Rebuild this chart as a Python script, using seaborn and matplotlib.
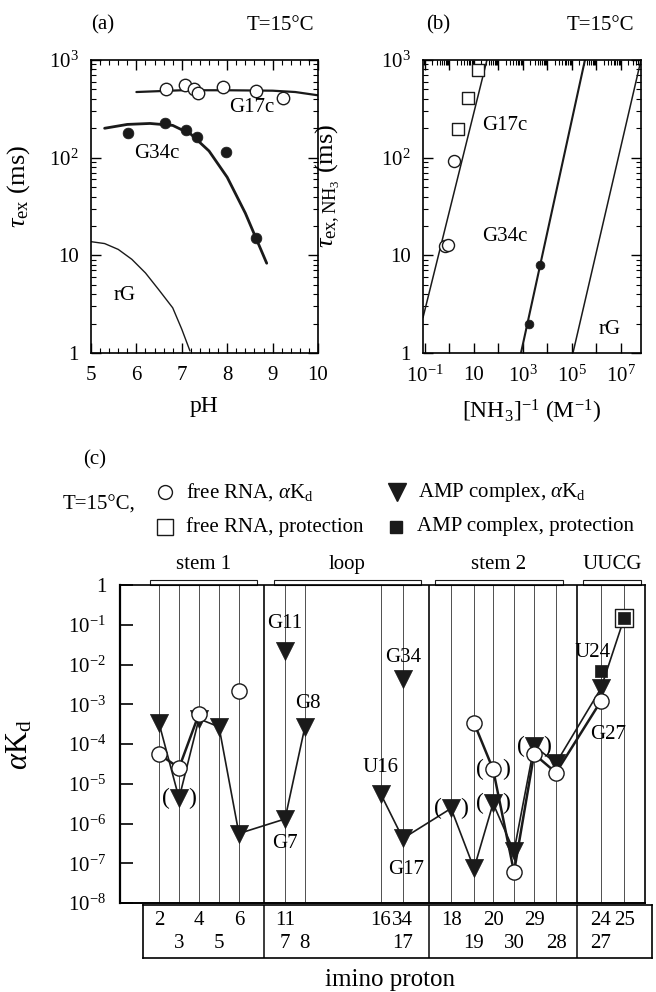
import matplotlib
matplotlib.use("Agg")
import matplotlib.pyplot as plt
import matplotlib.transforms as mtransforms
from matplotlib.patches import Rectangle
from matplotlib.lines import Line2D
from matplotlib.ticker import LogLocator, NullFormatter, MultipleLocator
import seaborn as sns

sns.set_theme(style="ticks")
plt.rcParams["font.family"] = ["Liberation Serif", "DejaVu Serif"]
plt.rcParams["mathtext.fontset"] = "custom"
plt.rcParams["mathtext.rm"] = "Liberation Serif"
plt.rcParams["mathtext.it"] = "Liberation Serif:italic"
plt.rcParams["mathtext.sf"] = "Liberation Serif"
for k in ["text.color", "axes.labelcolor", "xtick.color", "ytick.color", "axes.edgecolor"]:
    plt.rcParams[k] = "black"
plt.rcParams["axes.linewidth"] = 1.2

# ---------------- (a) exchange time vs pH ----------------
ph_g17 = [6.65, 7.07, 7.27, 7.36, 7.91, 8.63, 9.23]
tau_g17 = [505, 560, 505, 460, 533, 483, 410]
ph_g34 = [5.81, 6.63, 7.09, 7.33, 7.97, 8.63]
tau_g34 = [178, 229, 190, 162, 115, 15]
ph_g17_fit = [6.0, 7.0, 8.0, 9.0, 9.5, 10.0]
tau_g17_fit = [470, 490, 490, 485, 470, 435]
ph_g34_fit = [5.3, 5.8, 6.3, 6.8, 7.2, 7.6, 8.0, 8.4, 8.87]
tau_g34_fit = [200, 219, 224, 214, 174, 117, 63, 27, 8.3]
ph_rg_fit = [5.0, 5.3, 5.6, 5.9, 6.2, 6.5, 6.8, 7.0, 7.18]
tau_rg_fit = [13.8, 13.2, 11.5, 9.1, 6.6, 4.4, 2.9, 1.75, 1.05]

# ---------------- (b) exchange time vs 1/[NH3] ----------------
inv_nh3_sq = [14.5, 5.75, 2.24]
tau_sq = [794, 407, 195]
inv_nh3_open = [1.5, 0.66, 0.87]
tau_open = [93, 12.6, 12.9]
inv_nh3_fill = [4900, 1740]
tau_fill = [7.9, 2.0]
g17_line_x = [0.083, 33.9]
g17_line_y = [2.3, 1000]
g34_line_x = [832, 3.4e5]
g34_line_y = [1, 1000]
rg_line_x = [1.1e5, 6.6e7]
rg_line_y = [1, 1000]

# ---------------- (c) alpha*Kd per imino proton ----------------
col_pos = {2: 1.90, 3: 2.88, 4: 3.85, 5: 4.83, 6: 5.80,
           11: 8.05, 7: 8.05, 8: 9.02, 16: 12.73, 34: 13.80, 17: 13.80,
           18: 16.15, 19: 17.27, 20: 18.20, 30: 19.22, 29: 20.20, 28: 21.27,
           24: 23.46, 27: 23.46, 25: 24.59}
group_sep = [7.02, 15.07, 22.3]
groups = ["stem 1", "loop", "stem 2", "UUCG"]
group_span = [(1.46, 6.68), (7.51, 14.68), (15.37, 21.61), (22.59, 25.41)]

free_res_a = [2, 3, 4]
free_val_a = [5.6e-5, 2.5e-5, 5.7e-4]
free_res_s = [6]
free_val_s = [2.2e-3]
free_res_b = [19, 20, 30, 29, 28, 27]
free_val_b = [3.4e-4, 2.3e-5, 6e-8, 5.6e-5, 1.9e-5, 1.2e-3]

amp_res_a = [2, 3, 4, 5, 6, 7, 8]
amp_val_a = [3.4e-4, 4.3e-6, 4.3e-4, 2.7e-4, 5.6e-7, 1.3e-6, 2.7e-4]
amp_res_s = [11, 34]
amp_val_s = [2.2e-2, 4.4e-3]
amp_res_b = [16, 17, 18, 19, 20, 30, 29, 28, 27]
amp_val_b = [5.4e-6, 4.2e-7, 2.4e-6, 7.4e-8, 3.2e-6, 2e-7, 8.9e-5, 3.3e-5, 2.5e-3]

free_prot_res = [25]
free_prot_val = [0.145]
amp_prot_res = [24, 25]
amp_prot_val = [7e-3, 0.145]

amp_paren = [3, 18, 20, 29]
free_paren = [20]

row1_labels = [2, 4, 6, 11, 16, 34, 18, 20, 29, 24, 25]
row2_labels = [3, 5, 7, 8, 17, 19, 30, 28, 27]

W, H = 656, 992


def box(l, t, r, b):
    return [l / W, 1 - b / H, (r - l) / W, (b - t) / H]


def xs(res):
    return [col_pos[r] for r in res]


fig = plt.figure(figsize=(6.56, 9.92), dpi=100)
axa = fig.add_axes(box(91, 60, 318, 353))
axb = fig.add_axes(box(423, 60, 641, 353))
axc = fig.add_axes(box(120, 585, 645, 903))
axl = fig.add_axes(box(143, 905, 652, 958))

# ---- panel a
sns.lineplot(x=ph_g17_fit, y=tau_g17_fit, ax=axa, color="k", lw=1.6, sort=False, estimator=None)
sns.lineplot(x=ph_g34_fit, y=tau_g34_fit, ax=axa, color="k", lw=2.0, sort=False, estimator=None)
sns.lineplot(x=ph_rg_fit, y=tau_rg_fit, ax=axa, color="k", lw=1.0, sort=False, estimator=None)
sns.scatterplot(x=ph_g17, y=tau_g17, ax=axa, marker="o", s=80, color="white",
                edgecolor="k", linewidth=1.0, zorder=5)
sns.scatterplot(x=ph_g34, y=tau_g34, ax=axa, marker="o", s=60, color="k",
                edgecolor="k", linewidth=0.5, zorder=5)
axa.set_yscale("log")
axa.set_xlim(5, 10)
axa.set_ylim(1, 1000)
axa.set_yticks([1, 10, 100, 1000])
axa.set_yticklabels(["1", "10", "$10^2$", "$10^3$"])
axa.yaxis.set_minor_locator(LogLocator(base=10, subs=range(2, 10)))
axa.yaxis.set_minor_formatter(NullFormatter())
axa.xaxis.set_major_locator(MultipleLocator(1))
axa.xaxis.set_minor_locator(MultipleLocator(0.2))
axa.tick_params(which="both", top=True, right=True, direction="in", labelsize=15)
axa.tick_params(which="major", length=7, width=1, pad=9)
axa.tick_params(which="minor", length=3.5, width=0.8)
axa.set_xlabel("pH", fontsize=17, labelpad=8)
axa.set_ylabel(r"$\tau_{\rm ex}$ (ms)", fontsize=19)
axa.yaxis.set_label_coords(-0.26, 0.57)
axa.text(8.55, 325, "G17c", fontsize=15, ha="center", va="center")
axa.text(6.46, 110, "G34c", fontsize=15, ha="center", va="center")
axa.text(5.75, 3.9, "rG", fontsize=15, ha="center", va="center")

# ---- panel b
sns.lineplot(x=g17_line_x, y=g17_line_y, ax=axb, color="k", lw=1.1, sort=False, estimator=None)
sns.lineplot(x=g34_line_x, y=g34_line_y, ax=axb, color="k", lw=1.5, sort=False, estimator=None)
sns.lineplot(x=rg_line_x, y=rg_line_y, ax=axb, color="k", lw=1.1, sort=False, estimator=None)
sns.scatterplot(x=inv_nh3_sq, y=tau_sq, ax=axb, marker="s", s=70, color="white",
                edgecolor="k", linewidth=1.0, zorder=5)
sns.scatterplot(x=inv_nh3_open, y=tau_open, ax=axb, marker="o", s=75, color="white",
                edgecolor="k", linewidth=1.0, zorder=5)
sns.scatterplot(x=inv_nh3_fill, y=tau_fill, ax=axb, marker="o", s=40, color="k",
                edgecolor="k", linewidth=0.5, zorder=5)
axb.set_xscale("log")
axb.set_yscale("log")
axb.set_xlim(10 ** -1.08, 10 ** 7.82)
axb.set_ylim(1, 1000)
decades = [10.0 ** e for e in range(-1, 8)]
axb.set_xticks(decades)
axb.set_xticklabels(["$10^{-1}$", "", "10", "", "$10^3$", "", "$10^5$", "", "$10^7$"])
axb.xaxis.set_minor_locator(LogLocator(base=10, subs=range(2, 10), numticks=20))
axb.xaxis.set_minor_formatter(NullFormatter())
axb.set_yticks([1, 10, 100, 1000])
axb.set_yticklabels(["1", "10", "$10^2$", "$10^3$"])
axb.yaxis.set_minor_locator(LogLocator(base=10, subs=range(2, 10)))
axb.yaxis.set_minor_formatter(NullFormatter())
axb.tick_params(which="both", top=True, right=True, direction="in", labelsize=15)
axb.tick_params(which="major", length=7, width=1, pad=9)
axb.tick_params(which="minor", length=3.5, width=0.8)
axb.tick_params(axis="x", which="minor", bottom=False)
axb.set_xlabel(r"[NH$_3$]$^{-1}$ (M$^{-1}$)", fontsize=17, labelpad=8)
axb.set_ylabel(r"$\tau_{\rm ex,NH_3}$ (ms)", fontsize=19)
axb.yaxis.set_label_coords(-0.37, 0.57)
axb.text(10 ** 2.27, 10 ** 2.33, "G17c", fontsize=15, ha="center", va="center")
axb.text(10 ** 2.27, 10 ** 1.19, "G34c", fontsize=15, ha="center", va="center")
axb.text(10 ** 6.55, 10 ** 0.24, "rG", fontsize=15, ha="center", va="center")

# ---- panel c
for x in sorted(set(col_pos.values())):
    axc.axvline(x, color="0.2", lw=0.6, zorder=1)
for x in group_sep:
    axc.axvline(x, color="k", lw=1.3, zorder=1)

sns.lineplot(x=xs(amp_res_a), y=amp_val_a, ax=axc, color="k", lw=1.2, sort=False, estimator=None, zorder=2)
sns.lineplot(x=xs(amp_res_b + amp_prot_res[-1:]), y=amp_val_b + amp_prot_val[-1:], ax=axc,
             color="k", lw=1.2, sort=False, estimator=None, zorder=2)
sns.lineplot(x=xs(free_res_a), y=free_val_a, ax=axc, color="k", lw=1.8, sort=False, estimator=None, zorder=2)
sns.lineplot(x=xs(free_res_b), y=free_val_b, ax=axc, color="k", lw=1.8, sort=False, estimator=None, zorder=2)

sns.scatterplot(x=xs(amp_res_a + amp_res_s + amp_res_b), y=amp_val_a + amp_val_s + amp_val_b,
                ax=axc, marker="v", s=170, color="k", edgecolor="k", linewidth=0.5, zorder=4)
sns.scatterplot(x=xs(free_res_a + free_res_s + free_res_b), y=free_val_a + free_val_s + free_val_b,
                ax=axc, marker="o", s=120, color="white", edgecolor="k", linewidth=1.0, zorder=5)
sns.scatterplot(x=xs(free_prot_res), y=free_prot_val, ax=axc, marker="s", s=150, color="white",
                edgecolor="k", linewidth=1.0, zorder=5)
sns.scatterplot(x=xs(amp_prot_res), y=amp_prot_val, ax=axc, marker="s", s=75, color="k",
                edgecolor="k", linewidth=0.5, zorder=6)

amp_lookup = dict(zip(amp_res_a + amp_res_b, amp_val_a + amp_val_b))
free_lookup = dict(zip(free_res_a + free_res_b, free_val_a + free_val_b))
for r in amp_paren:
    axc.text(col_pos[r] - 0.62, amp_lookup[r], "(", fontsize=17, ha="center", va="center", zorder=6)
    axc.text(col_pos[r] + 0.62, amp_lookup[r], ")", fontsize=17, ha="center", va="center", zorder=6)
for r in free_paren:
    axc.text(col_pos[r] - 0.62, free_lookup[r], "(", fontsize=17, ha="center", va="center", zorder=6)
    axc.text(col_pos[r] + 0.62, free_lookup[r], ")", fontsize=17, ha="center", va="center", zorder=6)

all_amp = dict(zip(amp_res_a + amp_res_s + amp_res_b, amp_val_a + amp_val_s + amp_val_b))
all_free = dict(zip(free_res_a + free_res_b, free_val_a + free_val_b))
notes = [("G11", col_pos[11], all_amp[11], 0, 20),
         ("G8", col_pos[8], all_amp[8], 2, 17),
         ("G34", col_pos[34], all_amp[34], 0, 15),
         ("U16", col_pos[16], all_amp[16], 0, 19),
         ("G7", col_pos[7], all_amp[7], 0, -18),
         ("G17", col_pos[17], all_amp[17], 2, -22),
         ("U24", col_pos[24], amp_prot_val[0], -6, 13),
         ("G27", col_pos[27], all_free[27], 5, -24)]
for txt, x, y, dx, dy in notes:
    axc.annotate(txt, (x, y), xytext=(dx, dy), textcoords="offset points",
                 fontsize=15, ha="center", va="center", zorder=7)

axc.set_yscale("log")
axc.set_xlim(0, 25.61)
axc.set_ylim(1e-8, 1)
axc.set_xticks([])
axc.set_yticks([10.0 ** -e for e in range(0, 9)])
axc.set_yticklabels(["1"] + ["$10^{-%d}$" % e for e in range(1, 9)])
axc.yaxis.set_minor_locator(plt.NullLocator())
axc.tick_params(axis="y", which="major", direction="in", length=9, width=1.2, labelsize=15, pad=10)
axc.spines["left"].set_linewidth(1.6)
axc.spines["bottom"].set_linewidth(1.4)
axc.set_ylabel(r"$\alpha$K$_{\rm d}$", fontsize=22)
axc.yaxis.set_label_coords(-0.162, 0.497)

trans = mtransforms.blended_transform_factory(axc.transData, axc.transAxes)
for name, (x0, x1) in zip(groups, group_span):
    axc.add_patch(Rectangle((x0, 1.0), x1 - x0, 0.016, transform=trans, facecolor="white",
                            edgecolor="k", lw=0.8, clip_on=False))
    axc.text((x0 + x1) / 2, 1.063, name, transform=trans, fontsize=15, ha="center", va="center")

# label box under panel c
axl.set_xlim((143 - 120) / 20.5, (652 - 120) / 20.5)
axl.set_ylim(0, 1)
axl.set_xticks([])
axl.set_yticks([])
for x in group_sep:
    axl.axvline(x, color="k", lw=1.2)
for r in row1_labels:
    axl.text(col_pos[r], 0.70, str(r), fontsize=15, ha="center", va="center")
for r in row2_labels:
    axl.text(col_pos[r], 0.27, str(r), fontsize=15, ha="center", va="center")

# figure texts
fig.text(103 / W, 1 - 25 / H, "(a)", fontsize=15, ha="center", va="center")
fig.text(438 / W, 1 - 25 / H, "(b)", fontsize=15, ha="center", va="center")
fig.text(95 / W, 1 - 460 / H, "(c)", fontsize=15, ha="center", va="center")
fig.text(280 / W, 1 - 25 / H, "T=15°C", fontsize=15, ha="center", va="center")
fig.text(600 / W, 1 - 25 / H, "T=15°C", fontsize=15, ha="center", va="center")
fig.text(99 / W, 1 - 505 / H, "T=15°C,", fontsize=15, ha="center", va="center")
fig.text(390 / W, 1 - 980 / H, "imino proton", fontsize=18, ha="center", va="center")

legend_items = [(165, 492, "o", "white", 10, r"free RNA, $\alpha$K$_{\rm d}$"),
                (165, 527, "s", "white", 11, "free RNA, protection"),
                (397, 492, "v", "k", 13, r"AMP complex, $\alpha$K$_{\rm d}$"),
                (396, 527, "s", "k", 9, "AMP complex, protection")]
for px, py, mk, fc, ms, lab in legend_items:
    fig.add_artist(Line2D([px / W], [1 - py / H], marker=mk, ms=ms, mfc=fc, mec="k",
                          mew=1.0, ls="none", transform=fig.transFigure))
    fig.text((px + 21) / W, 1 - py / H, lab, fontsize=15, ha="left", va="center")

fig.savefig("out.png", dpi=100)
